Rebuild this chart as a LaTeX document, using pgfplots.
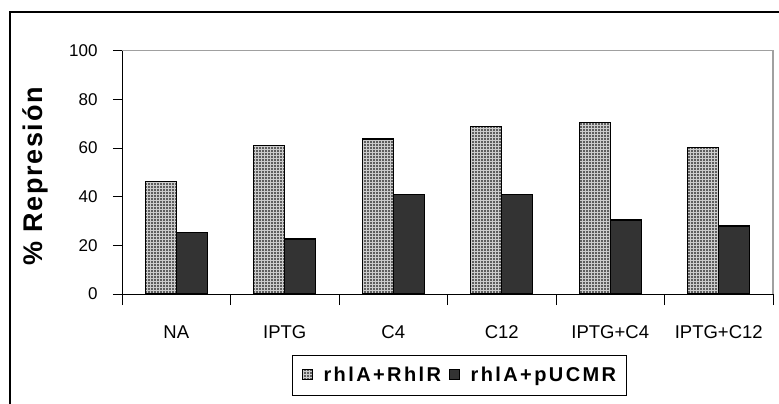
\documentclass[border=0pt]{standalone}
\usepackage{fontspec}
\setmainfont{Liberation Sans}
\usepackage{pgfplots}
\pgfplotsset{compat=1.18}
\usetikzlibrary{patterns}
\definecolor{darkbar}{HTML}{333333}
\definecolor{gridbase}{HTML}{5E5E5E}
\definecolor{gridline}{HTML}{CCCCCC}
\definecolor{boxgray}{HTML}{A0A0A0}
\begin{document}
\begin{tikzpicture}
\useasboundingbox (0,0) rectangle (779pt,-404pt);
\draw[line width=1.3pt] (10pt,-420pt) -- (10pt,-12pt) -- (800pt,-12pt);
\begin{axis}[
  at={(122pt,-294pt)}, anchor=south west,
  scale only axis, width=651pt, height=243.3pt,
  xmin=-0.5, xmax=5.5, ymin=0, ymax=100,
  clip=false,
  axis x line*=bottom, axis y line*=left,
  axis line style={black, line width=0.8pt, -},
  ybar=0pt, bar width=31pt,
  xtick={0,...,5},
  xticklabels={NA,IPTG,C4,C12,IPTG+C4,IPTG+C12},
  minor xtick={-0.5,0.5,...,5.5},
  major x tick style={draw=none},
  minor x tick style={black, line width=0.8pt},
  tick align=outside,
  minor tick length=11pt,
  major tick length=9pt,
  ytick={0,20,...,100},
  y tick style={black, line width=0.8pt},
  /pgf/number format/assume math mode=true,
  xticklabel style={font=\fontsize{18.5}{21}\selectfont, yshift=-19pt},
  yticklabel style={font=\fontsize{17}{20}\selectfont, xshift=-12pt},
  ylabel={\% Represión},
  every axis y label/.style={at={([xshift=-87pt,yshift=-4pt]axis description cs:0,0.5)}, rotate=90, anchor=center,
    font=\fontsize{27}{31}\selectfont\bfseries\addfontfeature{LetterSpace=6}},
  legend columns=2,
  legend style={at={(0.5177,0)}, anchor=north, yshift=-61pt, draw=black, line width=0.8pt,
    font=\fontsize{20}{23}\selectfont\bfseries\addfontfeature{LetterSpace=12},
    inner xsep=10pt, inner ysep=10pt,
    nodes={inner xsep=0pt, inner ysep=2pt},
    /tikz/every odd column/.append style={column sep=11pt},
    /tikz/every even column/.append style={column sep=8pt}},
  legend image code/.code={\draw[#1, line width=0.6pt] (0pt,-4pt) rectangle (10pt,6pt);},
]
\addplot[draw=black, line width=1.3pt, fill=gridbase, postaction={pattern=grid, pattern color=gridline}]
  coordinates {(0,46.2) (1,61) (2,63.7) (3,68.8) (4,70.6) (5,60.2)};
\addlegendentry{rhlA+RhlR}
\addplot[draw=black, line width=1.3pt, fill=darkbar]
  coordinates {(0,25.2) (1,22.6) (2,41) (3,41) (4,30.4) (5,28)};
\addlegendentry{rhlA+pUCMR}
\draw[boxgray, line width=1.5pt] (rel axis cs:0,1) -- (rel axis cs:1,1) -- (rel axis cs:1,0);
\end{axis}
\end{tikzpicture}
\end{document}
